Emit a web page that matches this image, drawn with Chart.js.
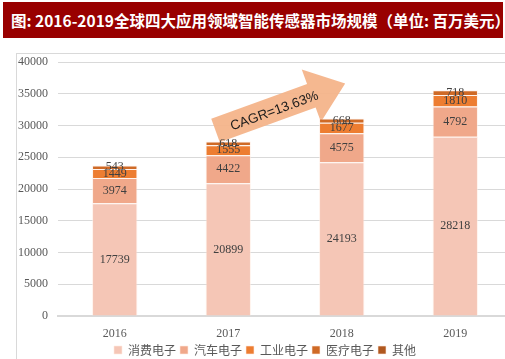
<!DOCTYPE html>
<html><head><meta charset="utf-8">
<script src="https://cdn.jsdelivr.net/npm/chart.js@4"></script>
<style>
html,body{margin:0;padding:0;background:#fff;width:505px;height:359px;overflow:hidden;position:relative}
#title{position:absolute;left:3px;top:2px;width:500px;height:36px;background:#990000;color:#fff;font-family:"Noto Sans CJK SC";font-weight:bold;font-size:15.5px;line-height:36px;white-space:nowrap;padding-left:8px;box-sizing:border-box;letter-spacing:0px}
#frame{position:absolute;left:16px;top:53px;width:500px;height:320px;border:1px solid #d9d9d9;box-sizing:border-box}
#wrap{position:absolute;left:0;top:40px;width:512px;height:326px}
</style></head><body>
<div id="title">图: 2016-2019全球四大应用领域智能传感器市场规模（单位: 百万美元）</div>
<div id="frame"></div>
<div id="wrap"><canvas id="c"></canvas></div>
<script>
const years = ["2016","2017","2018","2019"];
const seriesNames = ["消费电子","汽车电子","工业电子","医疗电子","其他"];
const consumer = [17739, 20899, 24193, 28218];
const automotive = [3974, 4422, 4575, 4792];
const industrial = [1449, 1555, 1677, 1810];
const medical = [543, 618, 668, 718];
const others = [0, 0, 0, 0];
const yTicks = [0,5000,10000,15000,20000,25000,30000,35000,40000];
const cagrText = "CAGR=13.63%";
const colors = ["#F5C6B6","#F0A88A","#ED7D31","#CF6A26","#B0581F"];
const values = [consumer, automotive, industrial, medical, others];

const labelPlugin = {
  id:'labels',
  afterDatasetsDraw(chart){
    const ctx = chart.ctx;
    ctx.save();
    ctx.font = '12px "Liberation Serif"';
    ctx.fillStyle = '#404040';
    ctx.textAlign = 'center';
    ctx.textBaseline = 'middle';
    chart.data.datasets.forEach((ds,i)=>{
      const meta = chart.getDatasetMeta(i);
      meta.data.forEach((bar,j)=>{
        const v = ds.data[j];
        if(!v) return;
        ctx.fillText(String(v), bar.x, (bar.y + bar.base)/2);
      });
    });
    ctx.restore();
  }
};
const arrowPlugin = {
  id:'arrow',
  beforeDatasetsDraw(chart){
    const ctx = chart.ctx;
    const xs = chart.scales.x, ys = chart.scales.y;
    const x0 = (xs.getPixelForValue(0)+xs.getPixelForValue(1))/2 + 44;
    const y0 = ys.getPixelForValue(29200);
    ctx.save();
    ctx.translate(x0, y0);
    ctx.rotate(-20*Math.PI/180);
    const L = 138, hl = 36, sw = 12.5, hw = 28;
    ctx.beginPath();
    ctx.moveTo(0,-sw);
    ctx.lineTo(L-hl,-sw);
    ctx.lineTo(L-hl,-hw);
    ctx.lineTo(L,0);
    ctx.lineTo(L-hl,hw);
    ctx.lineTo(L-hl,sw);
    ctx.lineTo(0,sw);
    ctx.closePath();
    ctx.fillStyle = 'rgba(244,180,138,0.95)';
    ctx.fill();
    ctx.font = '13.5px "Liberation Sans Narrow", "Liberation Sans"';
    ctx.fillStyle = '#1a1a1a';
    ctx.textAlign = 'center';
    ctx.textBaseline = 'middle';
    ctx.fillText(cagrText, 62, 2);
    ctx.restore();
  }
};

new Chart(document.getElementById('c'), {
  type:'bar',
  data:{
    labels: years,
    datasets: seriesNames.map((n,i)=>({
      label:n, data:values[i], backgroundColor:colors[i],
      borderColor:'rgba(255,235,225,0.6)', borderWidth:1,
      barPercentage:0.4, categoryPercentage:1
    }))
  },
  options:{
    responsive:true, maintainAspectRatio:false, animation:false,
    layout:{padding:{left:18,right:0,top:22,bottom:0}},
    plugins:{
      tooltip:{enabled:false},
      legend:{position:'bottom', labels:{boxWidth:8, boxHeight:8, padding:4, color:'#595959', font:{family:'"Noto Sans CJK SC"', size:12}}}
    },
    scales:{
      x:{stacked:true, grid:{display:false, drawTicks:false}, border:{color:'#d9d9d9', width:2},
         afterFit(s){s.height = 24;},
         ticks:{color:'#595959', font:{family:'"Liberation Serif"', size:12}, padding:11}},
      y:{stacked:true, min:0, max:40000, afterBuildTicks(s){s.ticks = yTicks.map(v=>({value:v}));},
         afterFit(s){s.width = 40;},
         grid:{color:'#d9d9d9', drawTicks:false}, border:{display:false},
         ticks:{color:'#595959', font:{family:'"Liberation Serif"', size:12}, padding:10,
                callback:(v)=>String(v)}}
    }
  },
  plugins:[arrowPlugin,labelPlugin]
});
</script>
</body></html>
